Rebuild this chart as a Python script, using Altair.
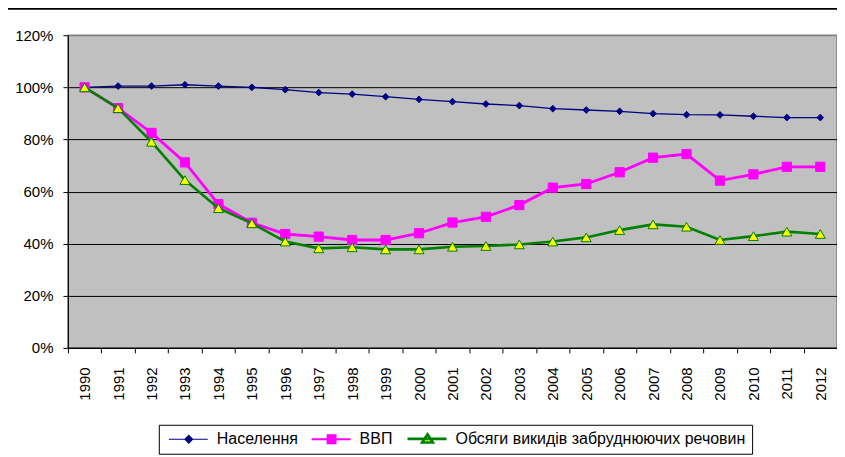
import altair as alt
import pandas as pd

years = [str(y) for y in range(1990, 2013)]
series_names = ["Населення", "ВВП", "Обсяги викидів забруднюючих речовин"]
population = [100.0, 100.5, 100.5, 101.0, 100.5, 100.0, 99.1, 98.0, 97.4, 96.4, 95.4, 94.5,
              93.6, 93.0, 91.8, 91.3, 90.8, 89.9, 89.5, 89.4, 88.9, 88.4, 88.4]
gdp = [100.0, 92.0, 82.5, 71.2, 55.2, 48.0, 43.7, 42.7, 41.4, 41.4, 44.0, 48.1,
       50.3, 54.8, 61.5, 62.9, 67.4, 73.0, 74.4, 64.2, 66.6, 69.5, 69.5]
emissions = [100.0, 92.0, 79.1, 64.4, 53.6, 47.8, 40.8, 38.2, 38.6, 37.8, 37.8, 38.8,
             39.1, 39.7, 40.8, 42.4, 45.2, 47.4, 46.5, 41.4, 42.9, 44.6, 43.7]
y_ticks = [0, 20, 40, 60, 80, 100, 120]

rows = []
for name, vals in zip(series_names, [population, gdp, emissions]):
    for yr, v in zip(years, vals):
        rows.append({"year": yr, "value": v, "series": name})
df = pd.DataFrame(rows)

FONT = "Liberation Sans"
stroke_colors = ["#000080", "#FF00FF", "#008000"]
fill_colors = ["#000080", "#FF00FF", "#FFFF00"]
marker_shapes = ["diamond", "square", "triangle-up"]
legend_shapes = [
    "M-1,0H8.75M4,-0.95L4.95,0L4,0.95L3.05,0Z",
    "M-1,0H8.75M3,-1H5V1H3Z",
    "M-1,0H8.75M4,-1.15L5.35,0.9H2.65Z",
]
legend_widths = [1.2, 2.6, 1.7]
line_widths = [1.3, 2.8, 2.6]
point_sizes = [45, 85, 100]

legend = alt.Legend(
    title=None, orient="none", direction="horizontal",
    legendX=91, legendY=390,
    fillColor="white", strokeColor="black", padding=6,
    symbolSize=64, labelOffset=36, columnPadding=9, labelLimit=500,
    labelFont=FONT, labelFontSize=16, labelColor="black",
)

x_enc = alt.X(
    "year:O", bandPosition=0.5,
    scale=alt.Scale(type="band", paddingInner=0, paddingOuter=0, domain=years),
    axis=alt.Axis(title=None, labelAngle=270, tickBand="extent", grid=False,
                  labelFont=FONT, labelFontSize=15, labelColor="black",
                  domainColor="black", tickColor="black", tickSize=5, labelPadding=14),
)
y_enc = alt.Y(
    "value:Q", scale=alt.Scale(domain=[0, 120], nice=False),
    axis=alt.Axis(title=None, values=y_ticks, labelExpr="datum.value + '%'",
                  labelFont=FONT, labelFontSize=15, labelColor="black",
                  domainColor="black", tickColor="black", tickSize=5, labelPadding=10,
                  grid=True,
                  gridColor={"condition": {"test": "datum.value == 120", "value": "#808080"}, "value": "black"},
                  gridWidth=1),
)
stroke_enc = alt.Stroke("series:N", scale=alt.Scale(domain=series_names, range=stroke_colors), legend=legend)
fill_enc = alt.Fill("series:N", scale=alt.Scale(domain=series_names, range=fill_colors), legend=legend)
shape_enc = alt.Shape("series:N", scale=alt.Scale(domain=series_names, range=legend_shapes), legend=legend)
sw_enc = alt.StrokeWidth("series:N", scale=alt.Scale(domain=series_names, range=legend_widths), legend=legend)

base = alt.Chart(df)
layers = []

# invisible layer (no rows) that carries the legend's symbol shapes
layers.append(
    base.transform_filter("false").mark_point(filled=True, opacity=1).encode(
        x=x_enc, y=y_enc, fill=fill_enc, stroke=stroke_enc, shape=shape_enc, strokeWidth=sw_enc)
)

for i, name in enumerate(series_names):
    flt = alt.datum.series == name
    layers.append(
        base.transform_filter(flt).mark_line(strokeWidth=line_widths[i]).encode(
            x=x_enc, y=y_enc, stroke=stroke_enc)
    )
    layers.append(
        base.transform_filter(flt).mark_point(filled=True, shape=marker_shapes[i], size=point_sizes[i],
                                              strokeWidth=1, opacity=1).encode(
            x=x_enc, y=y_enc, stroke=stroke_enc, fill=fill_enc)
    )

top_rule = alt.Chart(alt.Data(values=[{}])).mark_rule(color="black", strokeWidth=2).encode(
    x=alt.value(-60), x2=alt.value(775), y=alt.value(-26.5))
layers.append(top_rule)

chart = alt.layer(*layers).properties(
    width=770, height=313,
    autosize=alt.AutoSizeParams(type="none"),
    padding={"left": 60, "top": 27, "right": 0, "bottom": 108},
    background="white",
).configure_view(fill="#C0C0C0", stroke="#808080", strokeWidth=1.5)

chart.save("out.html", embed_options={"renderer": "svg", "actions": False})
